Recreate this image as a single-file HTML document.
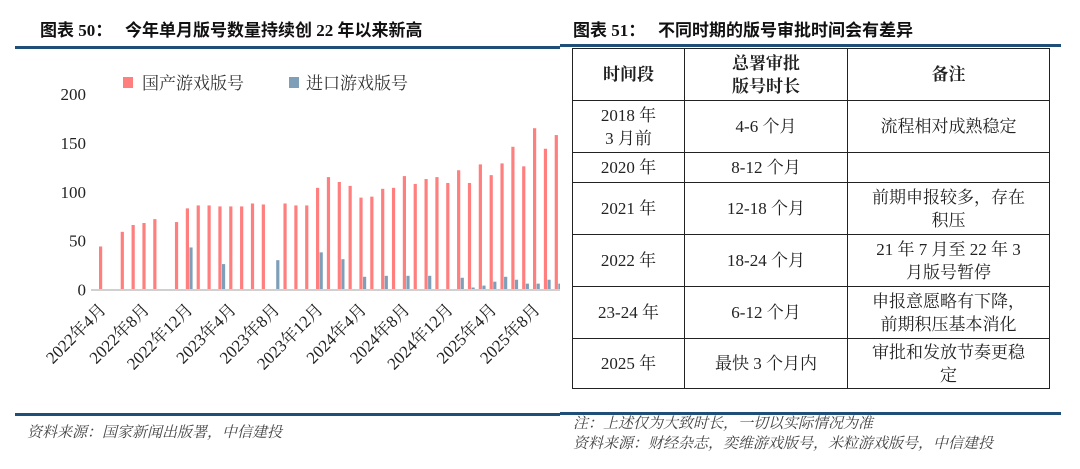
<!DOCTYPE html>
<html><head><meta charset="utf-8"><style>
body{margin:0;width:1080px;height:469px;background:#fff;overflow:hidden;position:relative;font-family:"Liberation Serif","Noto Serif CJK SC",serif;}
.abs{position:absolute;}
.title{font-weight:bold;font-size:17px;color:#111;font-family:"Liberation Serif","Noto Sans CJK SC",sans-serif;}
.line{position:absolute;height:3px;background:#1f4e79;}
.src{font-style:italic;font-size:15px;color:#444;font-family:"Liberation Serif","Noto Serif CJK SC",serif;}
table{position:absolute;left:572px;top:48px;border-collapse:collapse;font-size:17px;color:#222;font-family:"Liberation Serif","Noto Serif CJK SC",serif;}
td{border:1.5px solid #222;text-align:center;padding:0;line-height:23px;}
</style></head><body>
<div class="abs title" style="left:40px;top:16px;">图表 50：&nbsp;&nbsp; 今年单月版号数量持续创 22 年以来新高</div>
<div class="line" style="left:15px;top:46px;width:545px;"></div>
<div class="abs title" style="left:573px;top:16px;">图表 51：&nbsp;&nbsp; 不同时期的版号审批时间会有差异</div>
<div class="line" style="left:560px;top:44px;width:501px;"></div>
<svg class="abs" style="left:0;top:0" width="560" height="410">
<g id="g"></g>
</svg>
<div class="line" style="left:15px;top:413px;width:545px;"></div>
<div class="abs src" style="left:27px;top:421px;">资料来源：国家新闻出版署，中信建投</div>
<table>
<tr style="height:52px"><td style="width:111px;font-weight:bold">时间段</td><td style="width:162px;font-weight:bold">总署审批<br>版号时长</td><td style="width:201px;font-weight:bold">备注</td></tr>
<tr style="height:52px"><td>2018 年<br>3 月前</td><td>4-6 个月</td><td>流程相对成熟稳定</td></tr>
<tr style="height:30px"><td>2020 年</td><td>8-12 个月</td><td></td></tr>
<tr style="height:52px"><td>2021 年</td><td>12-18 个月</td><td>前期申报较多，存在<br>积压</td></tr>
<tr style="height:52px"><td>2022 年</td><td>18-24 个月</td><td>21 年 7 月至 22 年 3<br>月版号暂停</td></tr>
<tr style="height:52px"><td>23-24 年</td><td>6-12 个月</td><td>申报意愿略有下降，<br>前期积压基本消化</td></tr>
<tr style="height:50px"><td>2025 年</td><td>最快 3 个月内</td><td>审批和发放节奏更稳<br>定</td></tr>
</table>
<div class="line" style="left:560px;top:412px;width:501px;"></div>
<div class="abs src" style="left:573px;top:414px;line-height:20px;">注：上述仅为大致时长，一切以实际情况为准<br>资料来源：财经杂志，奕维游戏版号，米粒游戏版号，中信建投</div>
<script>
const categories=["2022-04","2022-05","2022-06","2022-07","2022-08","2022-09","2022-10","2022-11","2022-12","2023-01","2023-02","2023-03","2023-04","2023-05","2023-06","2023-07","2023-08","2023-09","2023-10","2023-11","2023-12","2024-01","2024-02","2024-03","2024-04","2024-05","2024-06","2024-07","2024-08","2024-09","2024-10","2024-11","2024-12","2025-01","2025-02","2025-03","2025-04","2025-05","2025-06","2025-07","2025-08","2025-09","2025-10"];
const domestic=[44,0,59,66,68,72,0,69,83,86,86,85,85,85,88,87,0,88,86,86,104,115,110,106,94,95,103,104,116,108,113,115,109,122,109,128,117,129,146,126,165,144,158];
const imported=[0,0,0,0,0,0,0,0,43,0,0,26,0,0,0,0,30,0,0,0,38,0,31,0,13,0,14,0,14,0,14,0,0,12,2,4,8,13,10,6,6,10,6];
const yTicks=[0,50,100,150,200];
const xLabels=["2022年4月","2022年8月","2022年12月","2023年4月","2023年8月","2023年12月","2024年4月","2024年8月","2024年12月","2025年4月","2025年8月"];
const xLabelIdx=[0,4,8,12,16,20,24,28,32,36,40];
const NS="http://www.w3.org/2000/svg";
const g=document.getElementById('g');
const y0=289.5,yTop=94,x0=99,step=10.85;
const y=v=>y0-(v/200)*(y0-yTop);
const x=i=>x0+i*step;
function mk(t,a){const e=document.createElementNS(NS,t);for(const k in a)e.setAttribute(k,a[k]);g.appendChild(e);return e;}
yTicks.forEach(v=>{const t=mk('text',{x:86,y:y(v)+6,'text-anchor':'end','font-size':'17','fill':'#222','font-family':'Liberation Serif, serif'});t.textContent=v;

});
domestic.forEach((v,i)=>{if(!v)return;const r=mk('rect',{x:x(i),y:y(v),width:3.2,height:y0-y(v),fill:'#ff7f7f'});

});
imported.forEach((v,i)=>{if(!v)return;const r=mk('rect',{x:x(i)+3.6,y:y(v),width:3.2,height:y0-y(v),fill:'#7f9fb8'});

});
const ax=mk('line',{x1:91,x2:560,y1:y0+0.5,y2:y0+0.5,stroke:'#d0d0d0','stroke-width':2});


xLabels.forEach((s,k)=>{const cx=x(xLabelIdx[k])+3;const t=mk('text',{x:0,y:0,'text-anchor':'end','font-size':'17','fill':'#222','font-family':'Liberation Serif, Noto Serif CJK SC, serif',transform:`translate(${cx+5},${y0+21}) rotate(-45)`});t.textContent=s;

});
const l1=mk('rect',{x:123,y:77,width:10,height:11,fill:'#ff7f7f'});


const t1=mk('text',{x:142,y:89,'font-size':'17','fill':'#333','font-family':'Liberation Serif, Noto Serif CJK SC, serif'});t1.textContent='国产游戏版号';


const l2=mk('rect',{x:289,y:77,width:10,height:11,fill:'#7f9fb8'});


const t2=mk('text',{x:306,y:89,'font-size':'17','fill':'#333','font-family':'Liberation Serif, Noto Serif CJK SC, serif'});t2.textContent='进口游戏版号';


</script>
</body></html>
